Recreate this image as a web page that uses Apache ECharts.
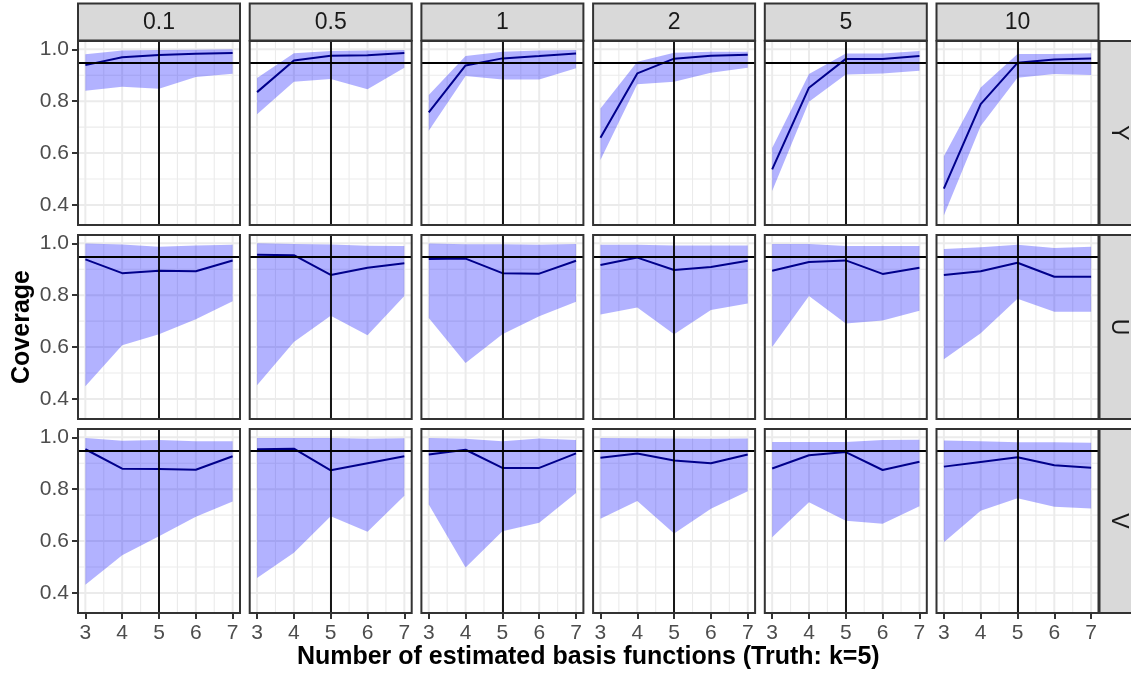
<!DOCTYPE html>
<html>
<head>
<meta charset="utf-8">
<script src="https://cdn.jsdelivr.net/npm/echarts@6/dist/echarts.min.js"></script>
<style>html,body{margin:0;padding:0;background:#fff}#chart{width:1131px;height:677px}</style>
</head>
<body>
<div id="chart"></div>
<script>
// ---- data ----
const colFacets = ['0.1', '0.5', '1', '2', '5', '10'];
const rowFacets = ['Y', 'U', 'V'];
const kValues = [3, 4, 5, 6, 7];
const xTicks = [3, 4, 5, 6, 7];
const xMinor = [3.5, 4.5, 5.5, 6.5];
const yTicks = [0.4, 0.6, 0.8, 1.0];
const yMinor = [0.5, 0.7, 0.9];
const nominal = 0.95;
const truthK = 5;

// mean coverage, [column][k]
const meanY = [
  [0.939, 0.969, 0.978, 0.983, 0.986],
  [0.835, 0.957, 0.975, 0.977, 0.986],
  [0.757, 0.938, 0.965, 0.974, 0.984],
  [0.659, 0.907, 0.964, 0.975, 0.979],
  [0.537, 0.852, 0.963, 0.963, 0.974],
  [0.463, 0.789, 0.948, 0.961, 0.965]
];
const lowY = [
  [0.840, 0.856, 0.848, 0.893, 0.906],
  [0.750, 0.875, 0.886, 0.846, 0.929],
  [0.686, 0.897, 0.884, 0.884, 0.927],
  [0.573, 0.865, 0.875, 0.910, 0.929],
  [0.454, 0.798, 0.903, 0.907, 0.917],
  [0.360, 0.704, 0.890, 0.905, 0.901]
];
const highY = [
  [0.981, 0.995, 0.997, 0.998, 1.000],
  [0.889, 0.985, 0.993, 0.995, 0.997],
  [0.824, 0.974, 0.991, 0.995, 0.997],
  [0.772, 0.952, 0.987, 0.991, 0.991],
  [0.620, 0.905, 0.984, 0.984, 0.993],
  [0.588, 0.853, 0.982, 0.982, 0.985]
];
const meanU = [
  [0.938, 0.885, 0.894, 0.892, 0.934],
  [0.956, 0.954, 0.878, 0.906, 0.923],
  [0.940, 0.941, 0.885, 0.883, 0.933],
  [0.916, 0.945, 0.897, 0.909, 0.933],
  [0.894, 0.928, 0.934, 0.882, 0.906],
  [0.878, 0.892, 0.925, 0.871, 0.871]
];
const lowU = [
  [0.449, 0.607, 0.650, 0.707, 0.777],
  [0.453, 0.620, 0.721, 0.646, 0.797],
  [0.712, 0.539, 0.650, 0.719, 0.775],
  [0.726, 0.753, 0.650, 0.743, 0.768],
  [0.600, 0.797, 0.691, 0.703, 0.740],
  [0.553, 0.653, 0.786, 0.736, 0.736]
];
const highU = [
  [0.999, 0.995, 0.987, 0.992, 0.994],
  [1.000, 0.997, 0.995, 0.991, 0.990],
  [0.999, 0.996, 0.996, 0.994, 0.997],
  [0.994, 0.994, 0.992, 0.992, 0.992],
  [0.997, 0.997, 0.990, 0.990, 0.990],
  [0.978, 0.985, 0.994, 0.982, 0.987]
];
const meanV = [
  [0.954, 0.879, 0.878, 0.875, 0.927],
  [0.954, 0.956, 0.873, 0.900, 0.927],
  [0.934, 0.952, 0.882, 0.882, 0.938],
  [0.921, 0.938, 0.911, 0.900, 0.934],
  [0.880, 0.931, 0.943, 0.874, 0.906],
  [0.887, 0.905, 0.923, 0.892, 0.883]
];
const lowV = [
  [0.432, 0.546, 0.619, 0.694, 0.753],
  [0.458, 0.555, 0.696, 0.636, 0.775],
  [0.741, 0.498, 0.638, 0.671, 0.785],
  [0.686, 0.755, 0.629, 0.725, 0.792],
  [0.615, 0.750, 0.678, 0.667, 0.734],
  [0.596, 0.717, 0.765, 0.732, 0.726]
];
const highV = [
  [0.997, 0.987, 0.990, 0.985, 0.985],
  [0.997, 0.997, 0.997, 0.994, 0.996],
  [0.997, 0.994, 0.985, 0.995, 0.990],
  [0.997, 0.996, 0.995, 0.994, 0.995],
  [0.982, 0.982, 0.982, 0.990, 0.991],
  [0.988, 0.985, 0.981, 0.981, 0.979]
];
const xTitle = 'Number of estimated basis functions (Truth: k=5)';
const yTitle = 'Coverage';

// ---- layout ----
const FONT = '"Liberation Sans", Arial, Helvetica, sans-serif';
const L0 = 78, CW = 162, CSTEP = 171.7;
const T0 = 41, RH = 184, RSTEP = 194;
const STRIP_TOP = 3.5, STRIP_H = 37;
const X_MIN = 2.8, X_MAX = 7.2, Y_MIN = 0.323, Y_MAX = 1.032;

const rows = [
  { mean: meanY, low: lowY, high: highY },
  { mean: meanU, low: lowU, high: highU },
  { mean: meanV, low: lowV, high: highV }
];

const grids = [], xAxes = [], yAxes = [], series = [], graphics = [];

const gridData = [].concat(
  xTicks.map(v => [v, 1, 1]),
  xMinor.map(v => [v, 0, 1]),
  yTicks.map(v => [v, 1, 0]),
  yMinor.map(v => [v, 0, 0])
);

for (let r = 0; r < 3; r++) {
  for (let c = 0; c < 6; c++) {
    const g = r * 6 + c;
    const left = L0 + c * CSTEP, top = T0 + r * RSTEP;
    grids.push({
      left: left, top: top, width: CW, height: RH,
      show: true, borderColor: '#333333', borderWidth: 2,
      backgroundColor: 'transparent', z: 10,
      containLabel: false, outerBoundsMode: 'none'
    });
    xAxes.push({
      type: 'value', gridIndex: g, min: X_MIN, max: X_MAX,
      axisLine: { show: false, onZero: false },
      splitLine: { show: false },
      axisTick: { show: r === 2, customValues: xTicks, length: 6, lineStyle: { color: '#333333', width: 2 } },
      axisLabel: { show: r === 2, customValues: xTicks, fontSize: 21, color: '#4D4D4D', fontFamily: FONT, margin: 10 }
    });
    yAxes.push({
      type: 'value', gridIndex: g, min: Y_MIN, max: Y_MAX,
      axisLine: { show: false, onZero: false },
      splitLine: { show: false },
      axisTick: { show: c === 0, customValues: yTicks, length: 6, lineStyle: { color: '#333333', width: 2 } },
      axisLabel: { show: c === 0, customValues: yTicks, fontSize: 21, color: '#4D4D4D', fontFamily: FONT, margin: 9,
        formatter: v => v.toFixed(1) }
    });
    // grid lines
    series.push({
      type: 'custom', xAxisIndex: g, yAxisIndex: g, z: 1, silent: true,
      data: gridData,
      renderItem: function (params, api) {
        const v = api.value(0), major = api.value(1), vert = api.value(2);
        const cs = params.coordSys;
        const pt = api.coord([v, v]);
        const w = major ? 2 : 1.1;
        if (vert) {
          return { type: 'line', shape: { x1: pt[0], y1: cs.y, x2: pt[0], y2: cs.y + cs.height },
            style: { stroke: '#EBEBEB', lineWidth: w } };
        }
        return { type: 'line', shape: { x1: cs.x, y1: pt[1], x2: cs.x + cs.width, y2: pt[1] },
          style: { stroke: '#EBEBEB', lineWidth: w } };
      }
    });
    const d = rows[r];
    // ribbon
    series.push({
      type: 'custom', xAxisIndex: g, yAxisIndex: g, z: 2, silent: true,
      data: kValues.map((k, i) => [k, d.low[c][i], d.high[c][i]]),
      encode: { x: 0, y: [1, 2] },
      renderItem: function (params, api) {
        if (params.dataIndexInside !== 0) return null;
        const n = params.dataInsideLength;
        const up = [], lo = [];
        for (let i = 0; i < n; i++) {
          const x = api.value(0, i);
          up.push(api.coord([x, api.value(2, i)]));
          lo.push(api.coord([x, api.value(1, i)]));
        }
        return { type: 'polygon', shape: { points: up.concat(lo.reverse()) },
          style: { fill: 'rgba(0,0,255,0.3)' } };
      }
    });
    // mean line + reference lines
    series.push({
      type: 'line', xAxisIndex: g, yAxisIndex: g, z: 3, silent: true,
      data: kValues.map((k, i) => [k, d.mean[c][i]]),
      symbol: 'none', showSymbol: false,
      lineStyle: { color: '#00008B', width: 2 },
      markLine: {
        silent: true, symbol: 'none', animation: false,
        label: { show: false },
        lineStyle: { color: '#000000', width: 1.8, type: 'solid' },
        emphasis: { disabled: true },
        data: [{ yAxis: nominal }, { xAxis: truthK }]
      }
    });
  }
}

// top strips
for (let c = 0; c < 6; c++) {
  const left = L0 + c * CSTEP;
  graphics.push({
    type: 'rect', shape: { x: left, y: STRIP_TOP, width: CW, height: STRIP_H },
    style: { fill: '#D9D9D9', stroke: '#333333', lineWidth: 2 }, z: 20
  });
  graphics.push({
    type: 'text', x: left + CW / 2, y: STRIP_TOP + STRIP_H / 2 + 1, z: 21,
    style: { text: colFacets[c], fontSize: 23, fontFamily: FONT, fill: '#1A1A1A', align: 'center', verticalAlign: 'middle' }
  });
}
// right strips
const RX = L0 + 5 * CSTEP + CW + 1;
for (let r = 0; r < 3; r++) {
  const top = T0 + r * RSTEP;
  graphics.push({
    type: 'rect', shape: { x: RX, y: top, width: 45, height: RH },
    style: { fill: '#D9D9D9', stroke: '#333333', lineWidth: 2 }, z: 20
  });
  graphics.push({
    type: 'text', x: RX + 19, y: top + RH / 2, rotation: -Math.PI / 2, z: 21,
    style: { text: rowFacets[r], fontSize: 23, fontFamily: FONT, fill: '#1A1A1A', align: 'center', verticalAlign: 'middle' }
  });
}
// axis titles
graphics.push({
  type: 'text', x: L0 + (5 * CSTEP + CW) / 2, y: 657, z: 21,
  style: { text: xTitle, fontSize: 25, fontWeight: 'bold', fontFamily: FONT, fill: '#000000', align: 'center', verticalAlign: 'middle' }
});
graphics.push({
  type: 'text', x: 22, y: T0 + (2 * RSTEP + RH) / 2, rotation: Math.PI / 2, z: 21,
  style: { text: yTitle, fontSize: 25, fontWeight: 'bold', fontFamily: FONT, fill: '#000000', align: 'center', verticalAlign: 'middle' }
});

const chart = echarts.init(document.getElementById('chart'), null, { renderer: 'canvas' });
chart.setOption({
  animation: false,
  backgroundColor: '#ffffff',
  grid: grids,
  xAxis: xAxes,
  yAxis: yAxes,
  series: series,
  graphic: { elements: graphics }
});
</script>
</body>
</html>
